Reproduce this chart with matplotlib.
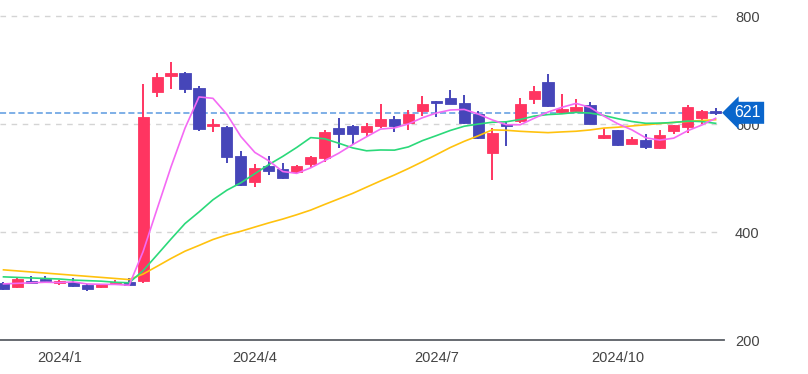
import numpy as np
import matplotlib
matplotlib.use("Agg")
import matplotlib.pyplot as plt
import matplotlib.transforms as mtransforms

plt.rcParams['font.family'] = ['Liberation Sans', 'DejaVu Sans']

# weekly candles, index 0..51
opens = [305, 298, 310, 313, 305, 307, 302, 298, 305, 308,
         309, 660, 689, 695, 667, 596, 595, 541, 492, 522,
         517, 512, 527, 538, 592, 597, 585, 596, 610, 602,
         624, 642, 649, 640, 618, 546, 601, 605, 646, 678,
         622, 625, 635, 575, 589, 564, 570, 555, 587, 595,
         612, 622]
closes = [294, 313, 306, 309, 310, 300, 294, 303, 308, 302,
          613, 688, 694, 666, 591, 600, 540, 488, 519, 513,
          501, 523, 539, 586, 581, 581, 596, 610, 597, 618,
          638, 640, 638, 602, 575, 584, 596, 637, 662, 633,
          628, 632, 601, 580, 562, 572, 558, 580, 598, 631,
          624, 621]
highs = [307, 314, 318, 318, 312, 315, 303, 304, 312, 315,
         675, 695, 715, 696, 670, 610, 596, 550, 527, 541,
         528, 525, 541, 590, 612, 598, 602, 637, 615, 626,
         652, 642, 663, 654, 625, 593, 604, 648, 670, 693,
         655, 646, 641, 592, 590, 577, 582, 590, 599, 635,
         626, 630]
lows = [292, 296, 305, 307, 302, 299, 291, 296, 304, 301,
        305, 650, 666, 657, 588, 586, 528, 485, 484, 506,
        498, 510, 519, 530, 555, 563, 578, 592, 586, 590,
        615, 614, 637, 601, 572, 497, 559, 602, 638, 632,
        618, 622, 600, 572, 559, 563, 553, 554, 581, 583,
        600, 617]

# moving averages (short / mid / long)
ma_short = [304, 305, 306, 307, 306.4, 307.6, 303.8, 303.2, 303, 301.4,
            364, 442.8, 521, 592.6, 650.4, 647.8, 618.2, 577, 547.6, 532,
            512.2, 508.8, 519, 532.4, 546, 562, 576.6, 590.8, 593, 600.4,
            611.8, 620.6, 626.2, 627.2, 618.6, 607.8, 599, 598.8, 610.8, 622.4,
            631.2, 638.4, 631.2, 614.8, 600.6, 589.4, 574.6, 570.4, 574, 587.8,
            598.2, 610.8]
ma_mid = [317, 316, 315, 314, 313, 311, 310, 309, 307, 306,
          328.6, 357.7, 387.2, 415.8, 437.2, 459.8, 477.6, 491.3, 508.2, 525,
          540.2, 556.8, 575, 572.9, 564.7, 556, 550.6, 552.1, 551.8, 557.8,
          569.4, 578.7, 588.3, 596.1, 600.1, 603.5, 604.3, 608.6, 614.8, 617.7,
          619.1, 621.8, 620.5, 616, 610, 604.9, 601.5, 601.9, 603, 605.7,
          604.7, 601.5]
ma_long = [330, 328, 326, 324, 322, 320, 318, 316, 314, 312,
           322.2, 336.5, 351.1, 364.6, 375.2, 386.2, 394.8, 401.5, 409.3, 417,
           424.1, 432.1, 440.7, 451.2, 461.4, 471.6, 483.2, 494.7, 505.8, 517.7,
           530.3, 543.4, 556.7, 568.2, 578.4, 589.3, 588.6, 586.7, 585.4, 584.2,
           585.6, 586.8, 589.2, 592.7, 594.3, 596.6, 598.8, 601, 603.3, 605,
           606.7, 608.2]

tick_pos = [4, 18, 31, 44]
tick_labels = ['2024/1', '2024/4', '2024/7', '2024/10']
y_ticks = [200, 400, 600, 800]
last_price = 621

UP = '#ff3561'
DOWN = '#4646b9'

fig = plt.figure(figsize=(8.08, 3.74), dpi=100)
ax = fig.add_axes([0, 34 / 374, 724 / 808, 340 / 374])

x = np.arange(len(closes))
o = np.array(opens, dtype=float)
c = np.array(closes, dtype=float)
colors = [UP if cc >= oo else DOWN for oo, cc in zip(o, c)]

# wicks
ax.vlines(x, lows, highs, colors=colors, linewidth=1.4, zorder=3)
# bodies (min height so crosses stay visible)
bottoms = np.minimum(o, c)
heights = np.maximum(np.abs(c - o), 2.5)
ax.bar(x, heights, bottom=bottoms, width=0.8, color=colors,
       edgecolor=colors, linewidth=0.6, zorder=4)

# moving averages
ax.plot(x, ma_long, color='#ffc20e', linewidth=1.2, zorder=5)
ax.plot(x, ma_mid, color='#2bd97a', linewidth=1.2, zorder=5)
ax.plot(x, ma_short, color='#f46af4', linewidth=1.2, zorder=5)

# grid
for yv in y_ticks[1:]:
    ax.axhline(yv, xmax=0.995, color='#d4d4d4', linewidth=1, dashes=(4, 4), zorder=1)

# last price line
ax.axhline(last_price, color='#5b9ae0', linewidth=1.1, dashes=(4, 2), zorder=2)

ax.set_xlim(-0.25, 51.6)
ax.set_ylim(200, 830)

for s in ['top', 'left', 'right']:
    ax.spines[s].set_visible(False)
ax.spines['bottom'].set_color('#5a5f66')
ax.spines['bottom'].set_linewidth(1.3)

ax.set_xticks(tick_pos)
ax.set_xticklabels(tick_labels)
ax.set_yticks(y_ticks)
ax.yaxis.tick_right()
ax.tick_params(axis='both', length=0, labelsize=10.5, colors='#444444')
ax.tick_params(axis='y', pad=8)
ax.tick_params(axis='x', pad=8)

# price badge
trans = mtransforms.blended_transform_factory(ax.transAxes, ax.transData)
ax.text(1.014, last_price, str(last_price), transform=trans, ha='left', va='center',
        fontsize=11.5, color='white', zorder=10, clip_on=False,
        bbox=dict(boxstyle='larrow,pad=0.22', fc='#0a66cc', ec='none'))

fig.savefig('out.png', dpi=100)
